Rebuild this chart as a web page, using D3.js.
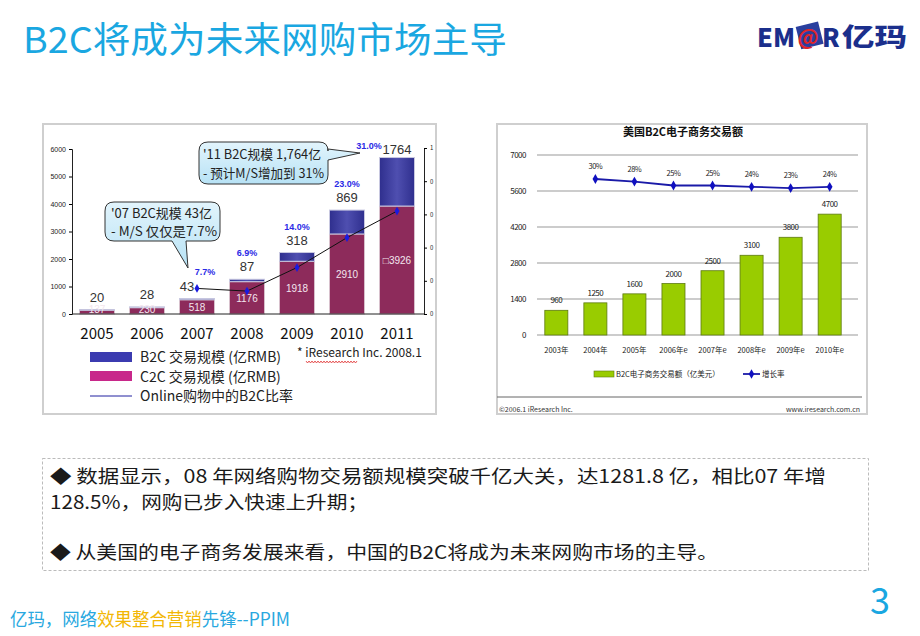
<!DOCTYPE html>
<html><head><meta charset="utf-8">
<script src="https://cdn.jsdelivr.net/npm/d3@7"></script>
<style>
body{margin:0;background:#fff;}
svg{display:block;}
text{font-family:"Noto Sans CJK SC","Noto Sans",sans-serif;}
.narrow{font-family:"Liberation Sans Narrow","Liberation Sans","Noto Sans CJK SC",sans-serif;}
</style></head>
<body>
<svg id="c" width="920" height="636"></svg>
<script>
// ---------- Data: China online shopping (left chart) ----------
const cnYears = ["2005","2006","2007","2008","2009","2010","2011"];
const cnC2C = [137, 230, 518, 1176, 1918, 2910, 3926];
const cnB2C = [20, 28, 43, 87, 318, 869, 1764];
const cnC2CLabels = ["137","230","518","1176","1918","2910","□3926"];
const cnB2CLabels = ["20","28","43","87","318","869","1764"];
const shareYears = ["2007","2008","2009","2010","2011"];
const shareValues = [0.077, 0.069, 0.14, 0.23, 0.31];
const shareLabels = ["7.7%","6.9%","14.0%","23.0%","31.0%"];
const cnLeftTicks = [0,1000,2000,3000,4000,5000,6000];
const cnRightTicks = [0,0.1,0.2,0.3,0.4,0.5];
const cnRightTickLabels = ["0","0","0","0","0","1"];
const cnLegend = ["B2C 交易规模 (亿RMB)","C2C 交易规模 (亿RMB)","Online购物中的B2C比率"];

// ---------- Data: US B2C (right chart) ----------
const usYears = ["2003年","2004年","2005年","2006年e","2007年e","2008年e","2009年e","2010年e"];
const usB2C = [960,1250,1600,2000,2500,3100,3800,4700];
const usGrowthYears = ["2004年","2005年","2006年e","2007年e","2008年e","2009年e","2010年e"];
const usGrowth = [0.30,0.28,0.25,0.25,0.24,0.23,0.24];
const usGrowthLabels = ["30%","28%","25%","25%","24%","23%","24%"];
const usTicks = [0,1400,2800,4200,5600,7000];

const svg = d3.select("#c");
const defs = svg.append("defs");

// ---------- Title ----------
svg.append("text").attr("x",23).attr("y",53).attr("font-size",36)
  .attr("textLength",484).attr("lengthAdjust","spacingAndGlyphs")
  .attr("fill","#1aa7e1").text("B2C将成为未来网购市场主导");

// logo
const logo = svg.append("g");
logo.append("text").attr("x",757).attr("y",47).attr("font-size",25).attr("font-weight",900)
  .attr("font-family","Liberation Sans, sans-serif").attr("fill","#1b2f8c")
  .attr("textLength",38).attr("lengthAdjust","spacingAndGlyphs").text("EM");
logo.append("rect").attr("x",798).attr("y",24).attr("width",23).attr("height",23)
  .attr("transform","rotate(-14 809 35)").attr("fill","#2a3f9e");
logo.append("text").attr("x",808).attr("y",45).attr("text-anchor","middle").attr("font-size",21).attr("font-weight",700)
  .attr("font-family","Liberation Sans, sans-serif").attr("fill","#e0252b").text("@");
logo.append("text").attr("x",822).attr("y",47).attr("font-size",25).attr("font-weight",900)
  .attr("font-family","Liberation Sans, sans-serif").attr("fill","#1b2f8c").text("R");
logo.append("text").attr("x",842).attr("y",46).attr("font-size",25).attr("font-weight",900)
  .attr("textLength",65).attr("lengthAdjust","spacingAndGlyphs")
  .attr("fill","#1b2f8c").text("亿玛");

// ---------- Left chart ----------
svg.append("rect").attr("x",43).attr("y",124).attr("width",393).attr("height",290)
  .attr("fill","#fff").attr("stroke","#cfcfcf").attr("stroke-width",2);

const xL = d3.scaleBand().domain(cnYears).range([72,422]).paddingInner(0.3).paddingOuter(0.15);
const yL = d3.scaleLinear().domain([0,6000]).range([314,149]);
const yR = d3.scaleLinear().domain([0,0.5]).range([314,148]);

const gB = defs.append("linearGradient").attr("id","gB2C").attr("x1","0").attr("x2","1");
gB.append("stop").attr("offset","0").attr("stop-color","#2f2f8e");
gB.append("stop").attr("offset","0.5").attr("stop-color","#4f4fb0");
gB.append("stop").attr("offset","1").attr("stop-color","#2f2f8e");

const gL = svg.append("g");
gL.selectAll(".c2c").data(cnYears).join("rect")
  .attr("x",d=>xL(d)).attr("width",xL.bandwidth())
  .attr("y",(d,i)=>yL(cnC2C[i])).attr("height",(d,i)=>yL(0)-yL(cnC2C[i]))
  .attr("fill","#8d2b5b").attr("stroke","#d8c0cc").attr("stroke-width",1);
gL.selectAll(".b2c").data(cnYears).join("rect")
  .attr("x",d=>xL(d)).attr("width",xL.bandwidth())
  .attr("y",(d,i)=>yL(cnC2C[i]+cnB2C[i])).attr("height",(d,i)=>yL(cnC2C[i])-yL(cnC2C[i]+cnB2C[i]))
  .attr("fill","url(#gB2C)").attr("stroke","#c8c8e0").attr("stroke-width",1);

const axL = gL.append("g").attr("transform","translate(72,0)")
  .call(d3.axisLeft(yL).tickValues(cnLeftTicks).tickSize(3).tickFormat(d3.format("d")));
axL.selectAll("text").attr("font-size",7).attr("fill","#222").attr("class","narrow");
axL.select(".domain").attr("stroke","#222");
const axR = gL.append("g").attr("transform","translate(424,0)")
  .call(d3.axisRight(yR).tickValues(cnRightTicks).tickSize(3).tickFormat((d,i)=>cnRightTickLabels[i]));
axR.selectAll("text").attr("font-size",6).attr("fill","#222");
axR.select(".domain").attr("stroke","#222");
gL.append("line").attr("x1",72).attr("x2",424).attr("y1",yL(0)).attr("y2",yL(0)).attr("stroke","#222");

gL.selectAll(".yr").data(cnYears).join("text")
  .attr("x",d=>xL(d)+xL.bandwidth()/2).attr("y",339).attr("text-anchor","middle")
  .attr("font-size",15).attr("fill","#111").attr("font-family","Liberation Sans, sans-serif").text(d=>d);

gL.selectAll(".cl").data(cnYears).join("text").attr("class","narrow")
  .attr("x",d=>xL(d)+xL.bandwidth()/2)
  .attr("y",(d,i)=>Math.min(yL(cnC2C[i]/2)+4, yL(0)-1))
  .attr("text-anchor","middle").attr("font-size",10).attr("fill","#f3e6ee")
  .text((d,i)=>cnC2CLabels[i]);

gL.selectAll(".bl").data(cnYears).join("text").attr("class","narrow")
  .attr("x",(d,i)=>xL(d)+xL.bandwidth()/2 - (d==="2007"?10:0))
  .attr("y",(d,i)=>yL(cnC2C[i]+cnB2C[i])-(d==="2011"?4:8))
  .attr("text-anchor","middle").attr("font-size",13).attr("fill","#333")
  .text((d,i)=>cnB2CLabels[i]);

const lineL = d3.line().x((d,i)=>xL(shareYears[i])+xL.bandwidth()/2).y(d=>yR(d));
gL.append("path").attr("d",lineL(shareValues)).attr("fill","none").attr("stroke","#111").attr("stroke-width",1);
gL.selectAll(".sp").data(shareValues).join("path")
  .attr("d",d3.symbol(d3.symbolDiamond,22))
  .attr("transform",(d,i)=>`translate(${xL(shareYears[i])+xL.bandwidth()/2},${yR(d)})`)
  .attr("fill","#1a1ae0");
gL.selectAll(".sl").data(shareYears).join("text").attr("class","narrow")
  .attr("x",(d,i)=>{const c=xL(d)+xL.bandwidth()/2; return d==="2007"?c+8:(d==="2011"?c-28:c);})
  .attr("y",(d,i)=>{const yi=cnYears.indexOf(d); const top=yL(cnC2C[yi]+cnB2C[yi]); return d==="2007"?top-24:(d==="2011"?top-9:top-23);})
  .attr("text-anchor","middle").attr("font-size",9).attr("font-weight",700).attr("fill","#2a2ae6")
  .text((d,i)=>shareLabels[i]);

// callouts
const gC1 = defs.append("linearGradient").attr("id","gCall").attr("x1","0").attr("y1","0").attr("x2","0").attr("y2","1");
gC1.append("stop").attr("offset","0").attr("stop-color","#e2f4fc");
gC1.append("stop").attr("offset","1").attr("stop-color","#b7e2f5");
function bubble(x0,y0,x1,y1,r,ptr){
  const p = d3.path();
  p.moveTo(x0+r,y0);
  if(ptr.side==="right"){
    p.lineTo(x1-r,y0); p.quadraticCurveTo(x1,y0,x1,y0+r);
    p.lineTo(x1,ptr.a); p.lineTo(ptr.tx,ptr.ty); p.lineTo(x1,ptr.b);
    p.lineTo(x1,y1-r); p.quadraticCurveTo(x1,y1,x1-r,y1);
    p.lineTo(x0+r,y1);
  } else {
    p.lineTo(x1-r,y0); p.quadraticCurveTo(x1,y0,x1,y0+r);
    p.lineTo(x1,y1-r); p.quadraticCurveTo(x1,y1,x1-r,y1);
    p.lineTo(ptr.b,y1); p.lineTo(ptr.tx,ptr.ty); p.lineTo(ptr.a,y1);
    p.lineTo(x0+r,y1);
  }
  p.quadraticCurveTo(x0,y1,x0,y1-r); p.lineTo(x0,y0+r); p.quadraticCurveTo(x0,y0,x0+r,y0);
  p.closePath();
  return p.toString();
}
function ctext(x,y,t,len){
  gL.append("text").attr("x",x).attr("y",y).attr("font-size",13).attr("fill","#222")
    .attr("textLength",len).attr("lengthAdjust","spacingAndGlyphs").text(t);
}
gL.append("path").attr("d",bubble(105,202,220,241,9,{side:"bottom",a:172,b:186,tx:188,ty:268}))
  .attr("fill","url(#gCall)").attr("stroke","#333").attr("stroke-width",1);
ctext(111,218,"'07 B2C规模 43亿",101);
ctext(111,236,"- M/S 仅仅是7.7%",106);

gL.append("path").attr("d",bubble(199,142,328,184,9,{side:"right",a:149,b:160,tx:360,ty:153}))
  .attr("fill","url(#gCall)").attr("stroke","#333").attr("stroke-width",1);
ctext(203,159,"'11 B2C规模 1,764亿",118);
ctext(203,178,"- 预计M/S增加到 31%",121);

// legend
gL.append("rect").attr("x",90).attr("y",352).attr("width",42).attr("height",10).attr("fill","#3b3bb0");
gL.append("rect").attr("x",90).attr("y",371).attr("width",42).attr("height",10).attr("fill","#c8288a");
gL.append("line").attr("x1",90).attr("x2",132).attr("y1",396).attr("y2",396).attr("stroke","#2020a0").attr("stroke-width",1);
gL.selectAll(".lg").data(cnLegend).join("text")
  .attr("x",140).attr("y",(d,i)=>362+i*19.5).attr("font-size",14).attr("fill","#222").text(d=>d);
const src = gL.append("text").attr("x",297).attr("y",357).attr("font-size",12).attr("fill","#222");
src.append("tspan").text("* ");
src.append("tspan").text("iResearch");
src.append("tspan").text(" Inc. 2008.1");
(function(){
  const p=d3.path(); let x=306; p.moveTo(x,361);
  while(x<356){ p.lineTo(x+1.5,363); p.lineTo(x+3,361); x+=3; }
  gL.append("path").attr("d",p.toString()).attr("fill","none").attr("stroke","#e03030").attr("stroke-width",0.8);
})();

// ---------- Right chart ----------
svg.append("rect").attr("x",497).attr("y",124).attr("width",370).attr("height",290)
  .attr("fill","#fff").attr("stroke","#cfcfcf").attr("stroke-width",2);
const gR = svg.append("g");
gR.append("text").attr("x",683).attr("y",136).attr("text-anchor","middle").attr("font-size",11)
  .attr("font-weight",700).attr("fill","#111").text("美国B2C电子商务交易额");

const xU = d3.scaleBand().domain(usYears).range([537,849]).paddingInner(0.41).paddingOuter(0.2);
const yU = d3.scaleLinear().domain([0,7000]).range([335,155]);
const yG = d3.scaleLinear().domain([0.20,0.30]).range([192,179]);

gR.selectAll(".gl").data(usTicks.slice(1)).join("line")
  .attr("x1",537).attr("x2",858).attr("y1",d=>yU(d)).attr("y2",d=>yU(d))
  .attr("stroke","#999").attr("stroke-width",1);
const axU = gR.append("g").attr("transform","translate(537,0)")
  .call(d3.axisLeft(yU).tickValues(usTicks).tickSize(0).tickPadding(11).tickFormat(d3.format("d")));
axU.selectAll("text").attr("font-size",8).attr("fill","#222").attr("font-family","DejaVu Sans, sans-serif").attr("letter-spacing",-0.5);
axU.select(".domain").remove();
gR.append("line").attr("x1",537).attr("x2",858).attr("y1",yU(0)).attr("y2",yU(0)).attr("stroke","#999");

gR.selectAll(".ub").data(usYears).join("rect")
  .attr("x",d=>xU(d)).attr("width",xU.bandwidth())
  .attr("y",(d,i)=>yU(usB2C[i])).attr("height",(d,i)=>yU(0)-yU(usB2C[i]))
  .attr("fill","#99cc00").attr("stroke","#5d7a10").attr("stroke-width",0.8);
gR.selectAll(".uv").data(usYears).join("text")
  .attr("x",d=>xU(d)+xU.bandwidth()/2).attr("y",(d,i)=>yU(usB2C[i])-7)
  .attr("text-anchor","middle").attr("font-size",8).attr("fill","#222")
  .attr("font-family","DejaVu Sans, sans-serif").attr("letter-spacing",-0.5).text((d,i)=>usB2C[i]);
gR.selectAll(".ux").data(usYears).join("text")
  .attr("x",d=>xU(d)+xU.bandwidth()/2).attr("y",353)
  .attr("text-anchor","middle").attr("font-size",7.5).attr("fill","#222").text(d=>d);

const lineU = d3.line().x((d,i)=>xU(usGrowthYears[i])+xU.bandwidth()/2).y(d=>yG(d));
gR.append("path").attr("d",lineU(usGrowth)).attr("fill","none").attr("stroke","#1a1aa8").attr("stroke-width",1.8);
gR.selectAll(".ug").data(usGrowth).join("path")
  .attr("d",d3.symbol(d3.symbolDiamond,28))
  .attr("transform",(d,i)=>`translate(${xU(usGrowthYears[i])+xU.bandwidth()/2},${yG(d)})`)
  .attr("fill","#1010c0");
gR.selectAll(".gl2").data(usGrowthLabels).join("text")
  .attr("x",(d,i)=>xU(usGrowthYears[i])+xU.bandwidth()/2).attr("y",(d,i)=>yG(usGrowth[i])-10)
  .attr("text-anchor","middle").attr("font-size",7.5).attr("fill","#222")
  .attr("font-family","DejaVu Sans, sans-serif").attr("letter-spacing",-0.5).text(d=>d);

gR.append("rect").attr("x",594).attr("y",371).attr("width",20).attr("height",6)
  .attr("fill","#99cc00").attr("stroke","#5d7a10").attr("stroke-width",0.6);
gR.append("text").attr("x",616).attr("y",377).attr("font-size",7.5).attr("fill","#222").text("B2C电子商务交易额（亿美元）");
gR.append("line").attr("x1",743).attr("x2",760).attr("y1",374).attr("y2",374).attr("stroke","#1a1aa8").attr("stroke-width",1.8);
gR.append("path").attr("d",d3.symbol(d3.symbolDiamond,26)).attr("transform","translate(751.5,374)").attr("fill","#1010c0");
gR.append("text").attr("x",762).attr("y",377).attr("font-size",7.5).attr("fill","#222").text("增长率");
gR.append("line").attr("x1",497).attr("x2",862).attr("y1",397).attr("y2",397).attr("stroke","#666").attr("stroke-width",1);
gR.append("text").attr("x",499).attr("y",412).attr("font-size",7).attr("fill","#333")
  .attr("font-family","DejaVu Sans, sans-serif").text("©2006.1  iResearch Inc.");
gR.append("text").attr("x",860).attr("y",412).attr("text-anchor","end").attr("font-size",7).attr("fill","#333")
  .attr("font-family","DejaVu Sans, sans-serif").text("www.iresearch.com.cn");

// ---------- Text box ----------
svg.append("rect").attr("x",42.5).attr("y",458.5).attr("width",826).attr("height",112)
  .attr("fill","none").attr("stroke","#bbb").attr("stroke-dasharray","3,2");
const bodyLines = [
  "◆ 数据显示，08 年网络购物交易额规模突破千亿大关，达1281.8 亿，相比07 年增",
  "128.5%，网购已步入快速上升期；",
  "◆ 从美国的电子商务发展来看，中国的B2C将成为未来网购市场的主导。"
];
const bodyY = [483, 509, 559];
const bodyLen = [776, 318, 668];
svg.selectAll(".body").data(bodyLines).join("text")
  .attr("x",50).attr("y",(d,i)=>bodyY[i]).attr("font-size",18).attr("fill","#1a1a1a")
  .attr("textLength",(d,i)=>bodyLen[i]).attr("lengthAdjust","spacingAndGlyphs").text(d=>d);

// ---------- Footer ----------
const ft = svg.append("text").attr("x",10).attr("y",626).attr("font-size",18)
  .attr("textLength",280).attr("lengthAdjust","spacingAndGlyphs");
ft.append("tspan").attr("fill","#29a8e0").text("亿玛，网络");
ft.append("tspan").attr("fill","#f2b705").text("效果整合营销");
ft.append("tspan").attr("fill","#29a8e0").text("先锋--PPIM");
svg.append("text").attr("x",890).attr("y",614).attr("text-anchor","end").attr("font-size",36)
  .attr("fill","#1aa7e1").text("3");
</script>
</body></html>
